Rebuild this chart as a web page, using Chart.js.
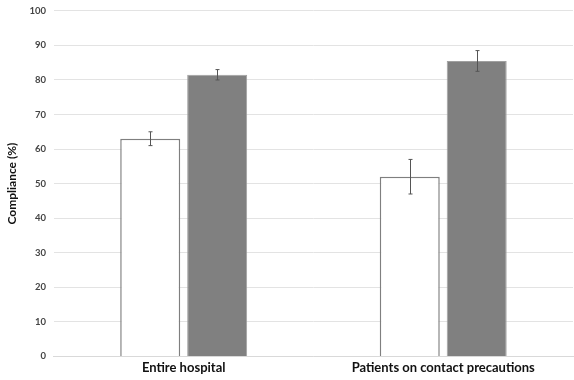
<!DOCTYPE html>
<html>
<head>
<meta charset="utf-8">
<script src="https://cdn.jsdelivr.net/npm/chart.js@4.4.0/dist/chart.umd.min.js"></script>
<style>
  html, body { margin: 0; padding: 0; background: #fff; }
  #wrap { width: 574px; height: 380px; position: relative; }
</style>
</head>
<body>
<div id="wrap"><canvas id="chart"></canvas></div>
<script>
    // Data
    const categories = ['Entire hospital', 'Patients on contact precautions'];
    const beforeValues = [63, 52];
    const beforeLow = [61, 47];
    const beforeHigh = [65, 57];
    const afterValues = [81.5, 85.5];
    const afterLow = [80, 82.5];
    const afterHigh = [83, 88.5];
    const yTicks = [0, 10, 20, 30, 40, 50, 60, 70, 80, 90, 100];

    const fontFamily = "Lato, 'Open Sans', sans-serif";

    // Draws error whiskers using the chart's own scales
    const errorBars = {
        id: 'errorBars',
        afterDatasetsDraw(chart) {
            const ctx = chart.ctx;
            const y = chart.scales.y;
            ctx.save();
            ctx.strokeStyle = '#555';
            ctx.lineWidth = 1;
            chart.data.datasets.forEach((ds, i) => {
                const meta = chart.getDatasetMeta(i);
                meta.data.forEach((bar, j) => {
                    const top = y.getPixelForValue(ds.errHigh[j]);
                    const bot = y.getPixelForValue(ds.errLow[j]);
                    const x = Math.round(bar.x) + 0.5;
                    ctx.beginPath();
                    ctx.moveTo(x, top);
                    ctx.lineTo(x, bot);
                    ctx.moveTo(x - 2, top);
                    ctx.lineTo(x + 2, top);
                    ctx.moveTo(x - 2, bot);
                    ctx.lineTo(x + 2, bot);
                    ctx.stroke();
                });
            });
            ctx.restore();
        }
    };

    new Chart(document.getElementById('chart').getContext('2d'), {
        type: 'bar',
        data: {
            labels: categories,
            datasets: [{
                label: 'Before',
                data: beforeValues,
                errLow: beforeLow,
                errHigh: beforeHigh,
                backgroundColor: '#ffffff',
                borderColor: '#7f7f7f',
                borderWidth: 1.5,
                barPercentage: 0.896,
                categoryPercentage: 0.516
            }, {
                label: 'After',
                data: afterValues,
                errLow: afterLow,
                errHigh: afterHigh,
                backgroundColor: '#808080',
                borderColor: '#a0a0a0',
                borderWidth: 1,
                barPercentage: 0.896,
                categoryPercentage: 0.516
            }]
        },
        options: {
            responsive: true,
            maintainAspectRatio: false,
            animation: false,
            layout: { padding: { top: 0, right: 1, left: 5, bottom: 0 } },
            plugins: {
                legend: { display: false },
                tooltip: { enabled: false }
            },
            scales: {
                x: {
                    grid: { display: false, drawTicks: false },
                    border: { display: true, color: '#d9d9d9' },
                    ticks: {
                        color: '#111',
                        padding: 4,
                        font: { size: 13, weight: 'bold', family: fontFamily }
                    }
                },
                y: {
                    min: 0,
                    max: 100,
                    afterBuildTicks: axis => { axis.ticks = yTicks.map(v => ({ value: v })); },
                    grid: { color: '#e3e3e3', drawTicks: false },
                    border: { display: false },
                    ticks: {
                        color: '#444',
                        padding: 8,
                        font: { size: 9.5, weight: 'bold', family: fontFamily, lineHeight: 0.6 }
                    },
                    title: {
                        display: true,
                        text: 'Compliance (%)',
                        color: '#111',
                        padding: { top: 0, bottom: 2 },
                        font: { size: 12, weight: 'bold', family: fontFamily }
                    }
                }
            }
        },
        plugins: [errorBars]
    });
</script>
</body>
</html>
